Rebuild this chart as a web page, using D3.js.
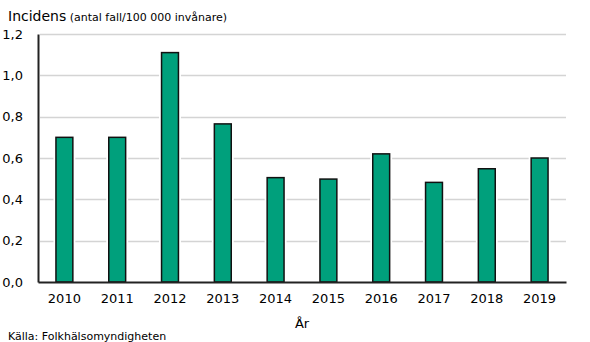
<!DOCTYPE html>
<html>
<head>
<meta charset="utf-8">
<script src="https://cdn.jsdelivr.net/npm/d3@7"></script>
<style>
  html, body { margin: 0; padding: 0; background: #fff; }
  svg { display: block; }
  text { font-family: "DejaVu Sans", Verdana, sans-serif; fill: #000; }
</style>
</head>
<body>
<svg id="chart" width="590" height="342"></svg>
<script>
// Incidence per 100 000 inhabitants, by year
const years = ["2010", "2011", "2012", "2013", "2014", "2015", "2016", "2017", "2018", "2019"];
const incidence = [0.70, 0.70, 1.11, 0.765, 0.505, 0.498, 0.62, 0.482, 0.548, 0.60];
const yTicks = [0, 0.2, 0.4, 0.6, 0.8, 1.0, 1.2];

const svg = d3.select("#chart");
const margin = { left: 38, right: 24, top: 34, bottom: 60 };
const W = 590, H = 342;

const x = d3.scaleBand()
  .domain(years)
  .range([margin.left, W - margin.right])
  .paddingInner(0.68)
  .paddingOuter(0.34);

const y = d3.scaleLinear()
  .domain([0, 1.2])
  .range([H - margin.bottom, margin.top]);

const fmt = d => d3.format(".1f")(d).replace(".", ",");

// Horizontal gridlines
svg.append("g")
  .selectAll("line")
  .data(yTicks.filter(d => d > 0))
  .join("line")
  .attr("x1", margin.left + 2)
  .attr("x2", W - margin.right)
  .attr("y1", d => Math.round(y(d)) + 0.5)
  .attr("y2", d => Math.round(y(d)) + 0.5)
  .attr("stroke", "#d4d4d4")
  .attr("stroke-width", 1.5);

// Bars with a thin white halo over the gridlines
const bars = svg.append("g");
bars.selectAll("rect.halo")
  .data(years)
  .join("rect")
  .attr("class", "halo")
  .attr("x", d => x(d) - 2.5)
  .attr("width", x.bandwidth() + 5)
  .attr("y", (d, i) => y(incidence[i]) - 2.5)
  .attr("height", (d, i) => y(0) - y(incidence[i]) + 2.5)
  .attr("fill", "#fff");
bars.selectAll("rect.bar")
  .data(years)
  .join("rect")
  .attr("class", "bar")
  .attr("x", d => x(d))
  .attr("width", x.bandwidth())
  .attr("y", (d, i) => y(incidence[i]))
  .attr("height", (d, i) => y(0) - y(incidence[i]))
  .attr("fill", "#00a07c")
  .attr("stroke", "#111")
  .attr("stroke-width", 1.5);

// Y axis
const yAxis = svg.append("g")
  .attr("transform", `translate(${margin.left},0)`)
  .call(d3.axisLeft(y).tickValues(yTicks).tickFormat(fmt).tickSize(0).tickPadding(15));
yAxis.select(".domain").attr("stroke", "#222").attr("stroke-width", 2);
yAxis.selectAll("text").style("font-size", "13px").attr("fill", "#000");

// X axis
const xAxis = svg.append("g")
  .attr("transform", `translate(0,${y(0)})`)
  .call(d3.axisBottom(x).tickSize(0).tickPadding(12));
xAxis.select(".domain").attr("stroke", "#222").attr("stroke-width", 2);
xAxis.selectAll("text").style("font-size", "13px").attr("fill", "#000");

// Titles and source
svg.append("text")
  .attr("x", 8).attr("y", 21)
  .style("font-size", "14px")
  .text("Incidens")
  .append("tspan")
  .style("font-size", "11px")
  .text(" (antal fall/100 000 invånare)");

svg.append("text")
  .attr("x", (margin.left + W - margin.right) / 2)
  .attr("y", 328)
  .attr("text-anchor", "middle")
  .style("font-size", "13px")
  .text("År");

svg.append("text")
  .attr("x", 8).attr("y", 340)
  .style("font-size", "11px")
  .text("Källa:  Folkhälsomyndigheten");
</script>
</body>
</html>
